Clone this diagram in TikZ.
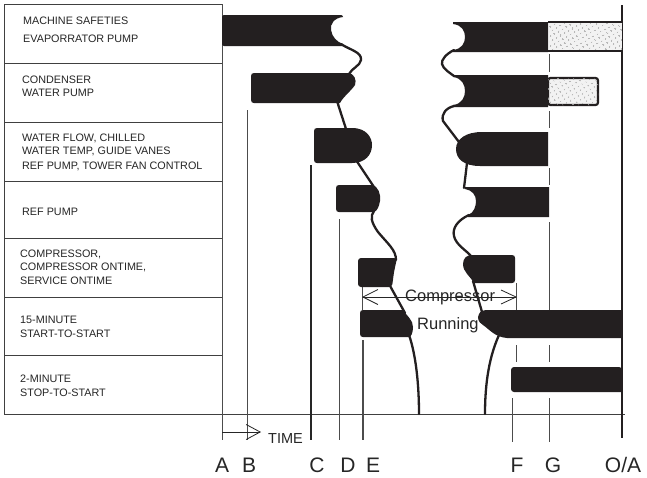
\documentclass[tikz,border=0pt]{standalone}
\usepackage{fontspec}
\setmainfont{Liberation Sans}
\usetikzlibrary{arrows.meta,patterns,patterns.meta}
\definecolor{barcol}{HTML}{231F20}
\begin{document}
\begin{tikzpicture}[x=1pt,y=-1pt,
  bar/.style={fill=barcol},
  wave/.style={draw=barcol,line width=2.3pt,line cap=round},
  grid/.style={draw=black!75,line width=0.8pt},
  tline/.style={draw=black!70,line width=0.9pt},
  tlabel/.style={font=\fontsize{10.8}{12}\selectfont,anchor=base west,inner sep=0pt,text=black!85},
  axlabel/.style={font=\fontsize{21}{24}\selectfont,anchor=base,inner sep=0pt,text=black!85},
  dotbox/.style={fill=gray!10,postaction={pattern={Dots[radius=0.9pt,distance=4pt,angle=30]},pattern color=gray!65}}]
\useasboundingbox (0,0) rectangle (647,477);
\fill[white] (0,0) rectangle (647,477);

% table
\draw[grid] (4,4) rectangle (222,414);
\foreach \yy in {63,122,181,238,297,355} \draw[grid] (4,\yy) -- (222,\yy);
\draw[grid] (222,414) -- (625,414);

% row labels
\node[tlabel] (r1a) at (23,24) {MACHINE SAFETIES};
\node[tlabel] (r1b) at (23,42) {EVAPORRATOR PUMP};
\node[tlabel] (r2a) at (22,83) {CONDENSER};
\node[tlabel] (r2b) at (22,96) {WATER PUMP};
\node[tlabel] (r3a) at (22,141) {WATER FLOW, CHILLED};
\node[tlabel] (r3b) at (22,154) {WATER TEMP, GUIDE VANES};
\node[tlabel] (r3c) at (22,169) {REF PUMP, TOWER FAN CONTROL};
\node[tlabel] (r4a) at (22,215) {REF PUMP};
\node[tlabel] (r5a) at (20,257) {COMPRESSOR,};
\node[tlabel] (r5b) at (20,270) {COMPRESSOR ONTIME,};
\node[tlabel] (r5c) at (20,284) {SERVICE ONTIME};
\node[tlabel] (r6a) at (20,323) {15-MINUTE};
\node[tlabel] (r6b) at (20,337) {START-TO-START};
\node[tlabel] (r7a) at (20,382) {2-MINUTE};
\node[tlabel] (r7b) at (20,396) {STOP-TO-START};

% time lines
\draw[tline] (222,4) -- (222,440);
\draw[tline,line width=0.7pt] (247,110) -- (247,440);
\draw[tline,line width=1.6pt,draw=black!85] (311,165) -- (311,440);
\draw[tline,line width=0.7pt] (339,219) -- (339,440);
\draw[tline,line width=1.3pt] (363,340) -- (363,440);
\draw[tline,line width=0.7pt] (362,287) -- (362,310);
\draw[tline,line width=0.7pt] (516,283) -- (516,310);
\draw[tline,line width=0.7pt] (516,345) -- (516,362);
\draw[tline,line width=0.7pt] (512,398) -- (512,442);
\foreach \a/\b in {54/72,111/128,168/185,222/310,345/362,398/442}
  \draw[tline,line width=0.8pt] (549,\a) -- (549,\b);
\draw[draw=barcol,line width=2.5pt] (622,5) -- (622,438);

% left cascade
\fill[bar,rounded corners=2pt] (222,15) -- (343,15) [sharp corners] -- (343,17)
  .. controls (334,18) and (330,24) .. (331,30)
  .. controls (332,37) and (337,42) .. (343,44) -- (343,46) [rounded corners=2pt] -- (222,46) -- cycle;
\draw[wave] (341,44) .. controls (350,50) and (362,52) .. (361,60)
  .. controls (360,66) and (352,68) .. (349,74);
\fill[bar] (254,73) -- (348,73) .. controls (354,73) and (357,80) .. (355,85)
  .. controls (351,91) and (343,97) .. (340,103) -- (254,103)
  .. controls (252,103) and (251,102) .. (251,100) -- (251,76)
  .. controls (251,74) and (252,73) .. (254,73) -- cycle;
\draw[wave] (337,101) -- (356,160) -- (376,190);
\fill[bar] (317,128) -- (352,128) .. controls (367,128) and (372,138) .. (372,145)
  .. controls (372,155) and (365,163) .. (352,163) -- (317,163)
  .. controls (315,163) and (314,162) .. (314,160) -- (314,131)
  .. controls (314,129) and (315,128) .. (317,128) -- cycle;
\fill[bar] (339,185) -- (372,185) .. controls (378,186) and (381,194) .. (380,201)
  .. controls (379,207) and (377,211) .. (374,212) -- (339,212)
  .. controls (337,212) and (336,211) .. (336,209) -- (336,188)
  .. controls (336,186) and (337,185) .. (339,185) -- cycle;
\draw[wave] (374,211) .. controls (370,216) and (371,222) .. (378,232)
  .. controls (388,244) and (396,250) .. (396,260);
\fill[bar,rounded corners=3pt] (358,258) -- (397,258) -- (394,272) -- (392,287) -- (358,287) -- cycle;
\draw[wave] (389,284) -- (405,313);
\fill[bar] (363,310) -- (403,310) .. controls (407,316) and (413,320) .. (413,327)
  .. controls (413,333) and (411,337) .. (409,337) -- (363,337)
  .. controls (361,337) and (360,336) .. (360,334) -- (360,313)
  .. controls (360,311) and (361,310) .. (363,310) -- cycle;
\draw[wave] (409,335) .. controls (416,355) and (419,385) .. (419,414);

% right cascade
\fill[bar] (453,22) -- (548,22) -- (548,52) -- (453,52) -- (453,50)
  .. controls (462,49) and (465,43) .. (465,37)
  .. controls (465,31) and (462,25) .. (453,24) -- cycle;
\fill[dotbox] (549,23) rectangle (622,50);
\draw[draw=barcol,line width=2pt] (548,22) -- (622,22) (548,51) -- (622,51);
\draw[wave] (454,50) .. controls (446,54) and (441,60) .. (442,64)
  .. controls (443,69) and (450,73) .. (454,76);
\fill[bar] (453,75) -- (548,75) -- (548,107) -- (453,107) -- (453,105)
  .. controls (462,104) and (465,97) .. (465,91)
  .. controls (465,85) and (462,78) .. (453,77) -- cycle;
\filldraw[dotbox,draw=barcol,line width=2.2pt,rounded corners=2.5pt] (548,78) rectangle (598,105);
\draw[wave] (454,106) .. controls (446,108) and (441,114) .. (443,121) -- (462,146);
\fill[bar] (482,132) -- (548,132) -- (548,166) -- (480,166)
  .. controls (464,166) and (456,159) .. (456,149)
  .. controls (456,139) and (466,132) .. (482,132) -- cycle;
\draw[wave] (467,163) -- (464,188);
\fill[bar] (465,187) -- (549,187) -- (549,217) -- (468,217) -- (468,215)
  .. controls (474,213) and (476,206) .. (476,201)
  .. controls (476,195) and (472,190) .. (465,189) -- cycle;
\draw[wave] (469,215) .. controls (458,220) and (452,228) .. (454,236)
  .. controls (456,245) and (466,250) .. (472,257);
\fill[bar] (472,255) -- (512,255) .. controls (514,255) and (515,256) .. (515,258)
  -- (515,280) .. controls (515,282) and (514,283) .. (512,283) -- (474,283)
  .. controls (470,276) and (463,272) .. (463,264)
  .. controls (463,258) and (467,255) .. (472,255) -- cycle;
\draw[wave] (473,281) -- (482,312);
\fill[bar] (488,310) -- (622,310) -- (622,338) -- (507,338)
  .. controls (495,337) and (490,330) .. (483,325)
  .. controls (478,322) and (477,318) .. (479,314)
  .. controls (480,311) and (484,310) .. (488,310) -- cycle;
\draw[wave] (499,335) .. controls (490,355) and (485,380) .. (485,414);
\fill[bar,rounded corners=3pt] (511,367) -- (622,367) [sharp corners] -- (622,392) [rounded corners=3pt] -- (511,392) -- cycle;

% compressor running
\coordinate (cl) at (362,297);
\coordinate (cr) at (517,297);
\draw[draw=black!85,line width=0.8pt,{Straight Barb[length=15pt,width=15pt]}-{Straight Barb[length=15pt,width=14pt]}] (cl) -- (cr);
\node[font=\fontsize{16.5}{18}\selectfont,anchor=base west,inner sep=0pt,text=black!85] (comp) at (405,301) {Compressor};
\node[font=\fontsize{16.5}{18}\selectfont,anchor=base west,inner sep=0pt,text=black!85] (run) at (417,329) {Running};

% time arrow
\coordinate (ta) at (222,432);
\coordinate (tb) at (261,432);
\draw[draw=black!85,line width=0.8pt,-{Straight Barb[length=14pt,width=15pt]}] (ta) -- (tb);
\node[font=\fontsize{14.5}{16}\selectfont,anchor=base west,inner sep=0pt,text=black!85] (time) at (268,443) {TIME};

% axis letters
\node[axlabel] (la) at (222,472) {A};
\node[axlabel] (lb) at (249,472) {B};
\node[axlabel] (lc) at (317,472) {C};
\node[axlabel] (ld) at (348,472) {D};
\node[axlabel] (le) at (373,472) {E};
\node[axlabel] (lf) at (517,472) {F};
\node[axlabel] (lg) at (553,472) {G};
\node[axlabel] (loa) at (623,472) {O/A};
\end{tikzpicture}
\end{document}
